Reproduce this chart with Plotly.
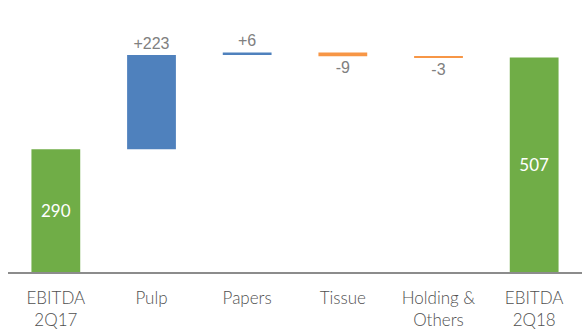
import plotly.graph_objects as go

categories = ["EBITDA<br>2Q17", "Pulp", "Papers", "Tissue", "Holding &<br>Others", "EBITDA<br>2Q18"]
values = [290, 223, 6, -9, -3, 507]
measures = ["absolute", "relative", "relative", "relative", "relative", "total"]
labels = ["290", "+223", "+6", "-9", "-3", "507"]

grey = "#505050"
lightgrey = "#808080"
fig = go.Figure(go.Waterfall(
    x=categories,
    y=values,
    measure=measures,
    text=labels,
    textposition=["inside", "outside", "outside", "outside", "outside", "inside"],
    insidetextanchor="middle",
    constraintext="none",
    insidetextfont=dict(family="Lato", size=17, color="white"),
    outsidetextfont=dict(family="Liberation Sans", size=16, color=lightgrey),
    increasing=dict(marker=dict(color="#4F81BD")),
    decreasing=dict(marker=dict(color="#F79646")),
    totals=dict(marker=dict(color="#70AD47")),
    connector=dict(visible=False),
    width=0.51,
    cliponaxis=False,
))

fig.update_layout(
    width=582, height=332,
    margin=dict(l=8, r=0, t=0, b=60),
    paper_bgcolor="white", plot_bgcolor="white",
    showlegend=False,
    font=dict(family="Lato", color=grey),
    uniformtext=dict(minsize=8, mode=False),
)
fig.update_xaxes(
    showline=True, linecolor="#8c8c8c", linewidth=1.5,
    tickfont=dict(family="Lato", size=17, color=grey, weight=300),
    ticklabelstandoff=10,
    ticks="", showgrid=False,
)
fig.update_yaxes(range=[0, 643], visible=False, showgrid=False)

fig.write_html("out.html")
